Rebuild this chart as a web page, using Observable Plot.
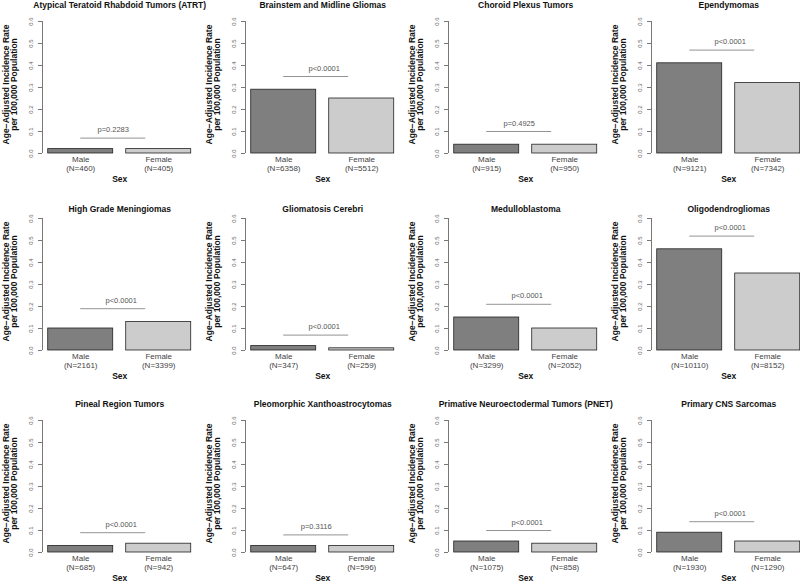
<!DOCTYPE html>
<html><head><meta charset="utf-8">
<script src="https://cdn.jsdelivr.net/npm/d3@7"></script>
<script src="https://cdn.jsdelivr.net/npm/@observablehq/plot@0.6"></script>
<style>
html,body{margin:0;padding:0;background:#fff;}
#chart{position:relative;width:800px;height:582px;overflow:hidden;background:#fff;}
#chart svg{position:absolute;overflow:visible;}
</style></head><body><div id="chart"></div>
<script>
// ---- data ----
const titles = [
  "Atypical Teratoid Rhabdoid Tumors (ATRT)", "Brainstem and Midline Gliomas", "Choroid Plexus Tumors", "Ependymomas",
  "High Grade Meningiomas", "Gliomatosis Cerebri", "Medulloblastoma", "Oligodendrogliomas",
  "Pineal Region Tumors", "Pleomorphic Xanthoastrocytomas", "Primative Neuroectodermal Tumors (PNET)", "Primary CNS Sarcomas"
];
const sexes = ["Male", "Female"];
const maleRate   = [0.02, 0.29, 0.04, 0.41, 0.10, 0.02, 0.15, 0.46, 0.03, 0.03, 0.05, 0.09];
const femaleRate = [0.02, 0.25, 0.04, 0.32, 0.13, 0.01, 0.10, 0.35, 0.04, 0.03, 0.04, 0.05];
const maleN   = [460, 6358, 915, 9121, 2161, 347, 3299, 10110, 685, 647, 1075, 1930];
const femaleN = [405, 5512, 950, 7342, 3399, 259, 2052, 8152, 942, 596, 858, 1290];
const pValues = ["p=0.2283", "p<0.0001", "p=0.4925", "p<0.0001", "p<0.0001", "p<0.0001",
                 "p<0.0001", "p<0.0001", "p<0.0001", "p=0.3116", "p<0.0001", "p<0.0001"];
const pLineY = [0.07, 0.35, 0.10, 0.47, 0.19, 0.07, 0.21, 0.52, 0.09, 0.08, 0.10, 0.14];
const yTicks = [0.0, 0.1, 0.2, 0.3, 0.4, 0.5, 0.6];
const yLabel = "Age\u2212Adjusted Incidence Rate\nper 100,000 Population";
const xLabel = "Sex";

// ---- layout / style ----
const FONT = "'Liberation Sans', Arial, Helvetica, sans-serif";
const maleFill = "#7f7f7f", femaleFill = "#cccccc";
const axisCol = "#555", tickTextCol = "#666", pCol = "#777";
const colLeft = [0, 203, 406, 609];
const rowGeom = [
  {top: 0,   plotTop: 21, plotBottom: 153, titleBase: 7.5},
  {top: 194, plotTop: 24, plotBottom: 156, titleBase: 17.5},
  {top: 388, plotTop: 32, plotBottom: 164, titleBase: 18.7}
];
const W = 203, H = 194;
// R barplot geometry: width 1, space 0.2, xlim extended 4%
const barWidth = 1, barSpace = 0.2;
const x1s = sexes.map((s, j) => barSpace + j * (barWidth + barSpace));
const xmin = x1s[0], xmax = x1s[x1s.length - 1] + barWidth;
const ext = (xmax - xmin) * 0.04;
const xDomain = [xmin - ext, xmax + ext];
const plotLeft = 42, unitPx = 65;
const plotRight = plotLeft + (xDomain[1] - xDomain[0]) * unitPx;
const fmt = d3.format(".1f");
const chart = document.getElementById("chart");

titles.forEach((title, i) => {
  const r = Math.floor(i / 4), c = i % 4, g = rowGeom[r];
  const rows = sexes.map((s, j) => ({
    sex: s, rate: j ? femaleRate[i] : maleRate[i], n: j ? femaleN[i] : maleN[i],
    x1: x1s[j], x2: x1s[j] + barWidth
  }));
  const lineX1 = x1s[0] + barWidth / 2, lineX2 = lineX1 + barWidth;
  const labelX = x1s[0] + barWidth;
  const svg = Plot.plot({
    width: W, height: H,
    marginLeft: plotLeft, marginRight: W - plotRight,
    marginTop: g.plotTop, marginBottom: H - g.plotBottom,
    x: {domain: xDomain, axis: null},
    y: {domain: [yTicks[0], yTicks[yTicks.length - 1]], axis: null},
    color: {domain: sexes, range: [maleFill, femaleFill]},
    style: {fontFamily: FONT, background: "transparent", overflow: "visible"},
    marks: [
      Plot.ruleX([xDomain[0]], {x: d => d, y1: () => yTicks[0], y2: () => yTicks[yTicks.length - 1], stroke: axisCol, strokeWidth: 0.8}),
      Plot.axisY({ticks: yTicks, tickSize: 4, tickFormat: () => "", label: null, stroke: axisCol, strokeWidth: 0.8}),
      Plot.text(yTicks, {y: d => d, text: d => fmt(d), frameAnchor: "left", textAnchor: "middle", lineAnchor: "middle", dx: -11, rotate: -90, fontSize: 6, fill: tickTextCol}),
      Plot.text([yLabel], {text: d => d, frameAnchor: "left", textAnchor: "middle", lineAnchor: "middle", dx: -32.3, dy: -3, rotate: -90, fontWeight: "bold", fontSize: 8.5, lineHeight: 0.98, fill: "#111"}),
      Plot.text([title], {text: d => d, frameAnchor: "top", textAnchor: "middle", dy: g.titleBase - g.plotTop, lineAnchor: "bottom", fontWeight: "bold", fontSize: 8.5, fill: "#111"}),
      Plot.rectY(rows, {x1: "x1", x2: "x2", y: "rate", fill: "sex", stroke: "#222", strokeWidth: 0.8}),
      Plot.ruleY([pLineY[i]], {y: d => d, x1: () => lineX1, x2: () => lineX2, stroke: pCol, strokeWidth: 0.8}),
      Plot.text([pValues[i]], {text: d => d, x: () => labelX, y: () => pLineY[i], dy: -6, dx: pValues[i].startsWith("p<") ? 8 : 0, lineAnchor: "bottom", fontSize: 7.5, fill: "#555"}),
      Plot.text(rows, {x: d => (d.x1 + d.x2) / 2, y: () => 0, text: d => `${d.sex}\n(N=${d.n})`, lineAnchor: "top", dy: 3, fontSize: 8, lineHeight: 1.05, fill: "#444"}),
      Plot.text([xLabel], {text: d => d, frameAnchor: "bottom", textAnchor: "middle", dy: 28.5, lineAnchor: "bottom", fontWeight: "bold", fontSize: 8.5, fill: "#111"})
    ]
  });
  svg.style.left = colLeft[c] + "px";
  svg.style.top = g.top + "px";
  chart.appendChild(svg);
});
</script>
</body></html>
